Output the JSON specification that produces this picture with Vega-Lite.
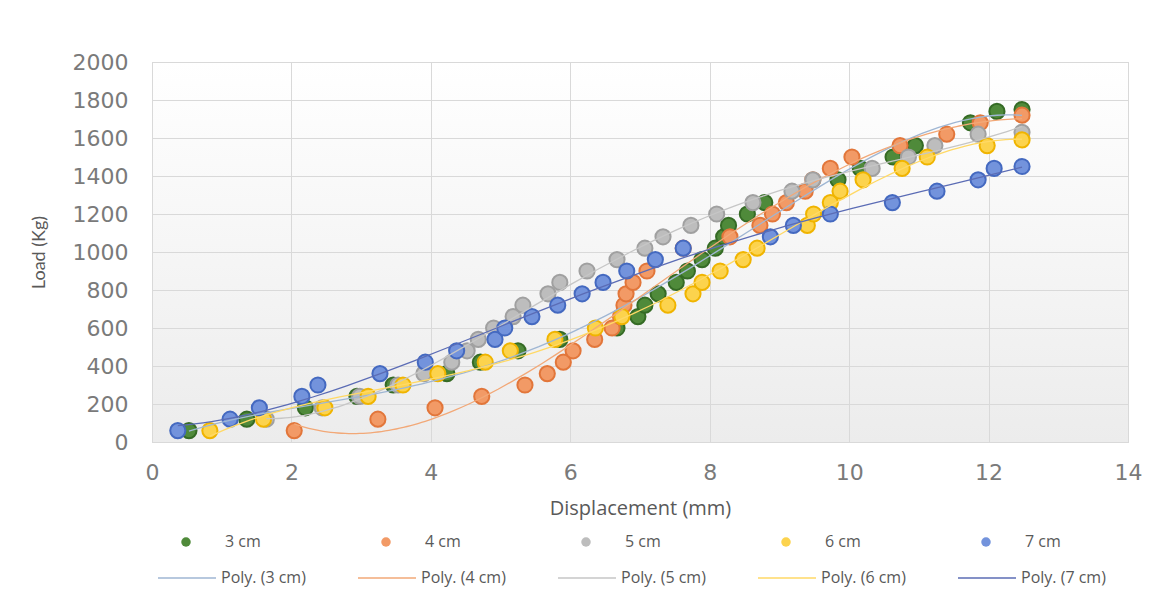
{
  "$schema": "https://vega.github.io/schema/vega-lite/v6.json",
  "width": 976,
  "height": 380,
  "autosize": {"type": "none"},
  "padding": {"left": 152, "top": 62, "right": 44, "bottom": 170},
  "background": "#ffffff",
  "config": {
    "font": "Open Sans",
    "view": {
      "stroke": "#d0d0d0",
      "fill": {"gradient": "linear", "x1": 0, "y1": 0, "x2": 0, "y2": 1,
        "stops": [{"offset": 0, "color": "#ffffff"}, {"offset": 1, "color": "#ececec"}]}
    },
    "axis": {
      "grid": true, "gridColor": "#d9d9d9", "gridWidth": 1,
      "domain": false, "ticks": false, "labelFlush": false,
      "labelFont": "DejaVu Sans", "labelFontSize": 22, "labelColor": "#7a7a7a",
      "titleFont": "Open Sans", "titleFontWeight": "normal", "titleColor": "#595959"
    },
    "legend": {
      "labelFont": "Open Sans", "labelFontSize": 16, "labelColor": "#595959"
    }
  },
  "data": {"values": [
    {"series": "3 cm", "trend": "Poly. (3 cm)", "disp": 0.53, "load": 60},
    {"series": "3 cm", "trend": "Poly. (3 cm)", "disp": 1.36, "load": 120},
    {"series": "3 cm", "trend": "Poly. (3 cm)", "disp": 2.2, "load": 180},
    {"series": "3 cm", "trend": "Poly. (3 cm)", "disp": 2.94, "load": 240},
    {"series": "3 cm", "trend": "Poly. (3 cm)", "disp": 3.46, "load": 300},
    {"series": "3 cm", "trend": "Poly. (3 cm)", "disp": 4.23, "load": 360},
    {"series": "3 cm", "trend": "Poly. (3 cm)", "disp": 4.71, "load": 420},
    {"series": "3 cm", "trend": "Poly. (3 cm)", "disp": 5.25, "load": 480},
    {"series": "3 cm", "trend": "Poly. (3 cm)", "disp": 5.85, "load": 540},
    {"series": "3 cm", "trend": "Poly. (3 cm)", "disp": 6.67, "load": 600},
    {"series": "3 cm", "trend": "Poly. (3 cm)", "disp": 6.97, "load": 660},
    {"series": "3 cm", "trend": "Poly. (3 cm)", "disp": 7.07, "load": 720},
    {"series": "3 cm", "trend": "Poly. (3 cm)", "disp": 7.26, "load": 780},
    {"series": "3 cm", "trend": "Poly. (3 cm)", "disp": 7.52, "load": 840},
    {"series": "3 cm", "trend": "Poly. (3 cm)", "disp": 7.68, "load": 900},
    {"series": "3 cm", "trend": "Poly. (3 cm)", "disp": 7.89, "load": 960},
    {"series": "3 cm", "trend": "Poly. (3 cm)", "disp": 8.08, "load": 1020},
    {"series": "3 cm", "trend": "Poly. (3 cm)", "disp": 8.2, "load": 1080},
    {"series": "3 cm", "trend": "Poly. (3 cm)", "disp": 8.27, "load": 1140},
    {"series": "3 cm", "trend": "Poly. (3 cm)", "disp": 8.54, "load": 1200},
    {"series": "3 cm", "trend": "Poly. (3 cm)", "disp": 8.79, "load": 1260},
    {"series": "3 cm", "trend": "Poly. (3 cm)", "disp": 9.84, "load": 1380},
    {"series": "3 cm", "trend": "Poly. (3 cm)", "disp": 10.16, "load": 1440},
    {"series": "3 cm", "trend": "Poly. (3 cm)", "disp": 10.63, "load": 1500},
    {"series": "3 cm", "trend": "Poly. (3 cm)", "disp": 10.95, "load": 1560},
    {"series": "3 cm", "trend": "Poly. (3 cm)", "disp": 11.74, "load": 1680},
    {"series": "3 cm", "trend": "Poly. (3 cm)", "disp": 12.12, "load": 1740},
    {"series": "3 cm", "trend": "Poly. (3 cm)", "disp": 12.48, "load": 1750},
    {"series": "4 cm", "trend": "Poly. (4 cm)", "disp": 2.04, "load": 60},
    {"series": "4 cm", "trend": "Poly. (4 cm)", "disp": 3.24, "load": 120},
    {"series": "4 cm", "trend": "Poly. (4 cm)", "disp": 4.06, "load": 180},
    {"series": "4 cm", "trend": "Poly. (4 cm)", "disp": 4.73, "load": 240},
    {"series": "4 cm", "trend": "Poly. (4 cm)", "disp": 5.35, "load": 300},
    {"series": "4 cm", "trend": "Poly. (4 cm)", "disp": 5.67, "load": 360},
    {"series": "4 cm", "trend": "Poly. (4 cm)", "disp": 5.9, "load": 420},
    {"series": "4 cm", "trend": "Poly. (4 cm)", "disp": 6.04, "load": 480},
    {"series": "4 cm", "trend": "Poly. (4 cm)", "disp": 6.35, "load": 540},
    {"series": "4 cm", "trend": "Poly. (4 cm)", "disp": 6.6, "load": 600},
    {"series": "4 cm", "trend": "Poly. (4 cm)", "disp": 6.72, "load": 660},
    {"series": "4 cm", "trend": "Poly. (4 cm)", "disp": 6.77, "load": 720},
    {"series": "4 cm", "trend": "Poly. (4 cm)", "disp": 6.8, "load": 780},
    {"series": "4 cm", "trend": "Poly. (4 cm)", "disp": 6.9, "load": 840},
    {"series": "4 cm", "trend": "Poly. (4 cm)", "disp": 7.1, "load": 900},
    {"series": "4 cm", "trend": "Poly. (4 cm)", "disp": 7.62, "load": 1020},
    {"series": "4 cm", "trend": "Poly. (4 cm)", "disp": 8.29, "load": 1080},
    {"series": "4 cm", "trend": "Poly. (4 cm)", "disp": 8.72, "load": 1140},
    {"series": "4 cm", "trend": "Poly. (4 cm)", "disp": 8.9, "load": 1200},
    {"series": "4 cm", "trend": "Poly. (4 cm)", "disp": 9.1, "load": 1260},
    {"series": "4 cm", "trend": "Poly. (4 cm)", "disp": 9.37, "load": 1320},
    {"series": "4 cm", "trend": "Poly. (4 cm)", "disp": 9.48, "load": 1380},
    {"series": "4 cm", "trend": "Poly. (4 cm)", "disp": 9.73, "load": 1440},
    {"series": "4 cm", "trend": "Poly. (4 cm)", "disp": 10.04, "load": 1500},
    {"series": "4 cm", "trend": "Poly. (4 cm)", "disp": 10.73, "load": 1560},
    {"series": "4 cm", "trend": "Poly. (4 cm)", "disp": 11.4, "load": 1620},
    {"series": "4 cm", "trend": "Poly. (4 cm)", "disp": 11.88, "load": 1680},
    {"series": "4 cm", "trend": "Poly. (4 cm)", "disp": 12.48, "load": 1720},
    {"series": "5 cm", "trend": "Poly. (5 cm)", "disp": 1.64, "load": 120},
    {"series": "5 cm", "trend": "Poly. (5 cm)", "disp": 2.44, "load": 180},
    {"series": "5 cm", "trend": "Poly. (5 cm)", "disp": 2.98, "load": 240},
    {"series": "5 cm", "trend": "Poly. (5 cm)", "disp": 3.53, "load": 300},
    {"series": "5 cm", "trend": "Poly. (5 cm)", "disp": 3.9, "load": 360},
    {"series": "5 cm", "trend": "Poly. (5 cm)", "disp": 4.3, "load": 420},
    {"series": "5 cm", "trend": "Poly. (5 cm)", "disp": 4.52, "load": 480},
    {"series": "5 cm", "trend": "Poly. (5 cm)", "disp": 4.68, "load": 540},
    {"series": "5 cm", "trend": "Poly. (5 cm)", "disp": 4.9, "load": 600},
    {"series": "5 cm", "trend": "Poly. (5 cm)", "disp": 5.18, "load": 660},
    {"series": "5 cm", "trend": "Poly. (5 cm)", "disp": 5.32, "load": 720},
    {"series": "5 cm", "trend": "Poly. (5 cm)", "disp": 5.68, "load": 780},
    {"series": "5 cm", "trend": "Poly. (5 cm)", "disp": 5.85, "load": 840},
    {"series": "5 cm", "trend": "Poly. (5 cm)", "disp": 6.24, "load": 900},
    {"series": "5 cm", "trend": "Poly. (5 cm)", "disp": 6.67, "load": 960},
    {"series": "5 cm", "trend": "Poly. (5 cm)", "disp": 7.07, "load": 1020},
    {"series": "5 cm", "trend": "Poly. (5 cm)", "disp": 7.33, "load": 1080},
    {"series": "5 cm", "trend": "Poly. (5 cm)", "disp": 7.73, "load": 1140},
    {"series": "5 cm", "trend": "Poly. (5 cm)", "disp": 8.1, "load": 1200},
    {"series": "5 cm", "trend": "Poly. (5 cm)", "disp": 8.62, "load": 1260},
    {"series": "5 cm", "trend": "Poly. (5 cm)", "disp": 9.18, "load": 1320},
    {"series": "5 cm", "trend": "Poly. (5 cm)", "disp": 9.48, "load": 1380},
    {"series": "5 cm", "trend": "Poly. (5 cm)", "disp": 10.33, "load": 1440},
    {"series": "5 cm", "trend": "Poly. (5 cm)", "disp": 10.85, "load": 1500},
    {"series": "5 cm", "trend": "Poly. (5 cm)", "disp": 11.23, "load": 1560},
    {"series": "5 cm", "trend": "Poly. (5 cm)", "disp": 11.85, "load": 1620},
    {"series": "5 cm", "trend": "Poly. (5 cm)", "disp": 12.48, "load": 1630},
    {"series": "6 cm", "trend": "Poly. (6 cm)", "disp": 0.83, "load": 60},
    {"series": "6 cm", "trend": "Poly. (6 cm)", "disp": 1.6, "load": 120},
    {"series": "6 cm", "trend": "Poly. (6 cm)", "disp": 2.48, "load": 180},
    {"series": "6 cm", "trend": "Poly. (6 cm)", "disp": 3.1, "load": 240},
    {"series": "6 cm", "trend": "Poly. (6 cm)", "disp": 3.6, "load": 300},
    {"series": "6 cm", "trend": "Poly. (6 cm)", "disp": 4.1, "load": 360},
    {"series": "6 cm", "trend": "Poly. (6 cm)", "disp": 4.78, "load": 420},
    {"series": "6 cm", "trend": "Poly. (6 cm)", "disp": 5.14, "load": 480},
    {"series": "6 cm", "trend": "Poly. (6 cm)", "disp": 5.78, "load": 540},
    {"series": "6 cm", "trend": "Poly. (6 cm)", "disp": 6.36, "load": 600},
    {"series": "6 cm", "trend": "Poly. (6 cm)", "disp": 6.74, "load": 660},
    {"series": "6 cm", "trend": "Poly. (6 cm)", "disp": 7.4, "load": 720},
    {"series": "6 cm", "trend": "Poly. (6 cm)", "disp": 7.76, "load": 780},
    {"series": "6 cm", "trend": "Poly. (6 cm)", "disp": 7.89, "load": 840},
    {"series": "6 cm", "trend": "Poly. (6 cm)", "disp": 8.15, "load": 900},
    {"series": "6 cm", "trend": "Poly. (6 cm)", "disp": 8.48, "load": 960},
    {"series": "6 cm", "trend": "Poly. (6 cm)", "disp": 8.68, "load": 1020},
    {"series": "6 cm", "trend": "Poly. (6 cm)", "disp": 9.4, "load": 1140},
    {"series": "6 cm", "trend": "Poly. (6 cm)", "disp": 9.49, "load": 1200},
    {"series": "6 cm", "trend": "Poly. (6 cm)", "disp": 9.73, "load": 1260},
    {"series": "6 cm", "trend": "Poly. (6 cm)", "disp": 9.87, "load": 1320},
    {"series": "6 cm", "trend": "Poly. (6 cm)", "disp": 10.2, "load": 1380},
    {"series": "6 cm", "trend": "Poly. (6 cm)", "disp": 10.76, "load": 1440},
    {"series": "6 cm", "trend": "Poly. (6 cm)", "disp": 11.12, "load": 1500},
    {"series": "6 cm", "trend": "Poly. (6 cm)", "disp": 11.98, "load": 1560},
    {"series": "6 cm", "trend": "Poly. (6 cm)", "disp": 12.48, "load": 1590},
    {"series": "7 cm", "trend": "Poly. (7 cm)", "disp": 0.37, "load": 60},
    {"series": "7 cm", "trend": "Poly. (7 cm)", "disp": 1.12, "load": 120},
    {"series": "7 cm", "trend": "Poly. (7 cm)", "disp": 1.54, "load": 180},
    {"series": "7 cm", "trend": "Poly. (7 cm)", "disp": 2.15, "load": 240},
    {"series": "7 cm", "trend": "Poly. (7 cm)", "disp": 2.38, "load": 300},
    {"series": "7 cm", "trend": "Poly. (7 cm)", "disp": 3.27, "load": 360},
    {"series": "7 cm", "trend": "Poly. (7 cm)", "disp": 3.92, "load": 420},
    {"series": "7 cm", "trend": "Poly. (7 cm)", "disp": 4.37, "load": 480},
    {"series": "7 cm", "trend": "Poly. (7 cm)", "disp": 4.92, "load": 540},
    {"series": "7 cm", "trend": "Poly. (7 cm)", "disp": 5.06, "load": 600},
    {"series": "7 cm", "trend": "Poly. (7 cm)", "disp": 5.45, "load": 660},
    {"series": "7 cm", "trend": "Poly. (7 cm)", "disp": 5.82, "load": 720},
    {"series": "7 cm", "trend": "Poly. (7 cm)", "disp": 6.17, "load": 780},
    {"series": "7 cm", "trend": "Poly. (7 cm)", "disp": 6.47, "load": 840},
    {"series": "7 cm", "trend": "Poly. (7 cm)", "disp": 6.81, "load": 900},
    {"series": "7 cm", "trend": "Poly. (7 cm)", "disp": 7.22, "load": 960},
    {"series": "7 cm", "trend": "Poly. (7 cm)", "disp": 7.62, "load": 1020},
    {"series": "7 cm", "trend": "Poly. (7 cm)", "disp": 8.87, "load": 1080},
    {"series": "7 cm", "trend": "Poly. (7 cm)", "disp": 9.2, "load": 1140},
    {"series": "7 cm", "trend": "Poly. (7 cm)", "disp": 9.73, "load": 1200},
    {"series": "7 cm", "trend": "Poly. (7 cm)", "disp": 10.62, "load": 1260},
    {"series": "7 cm", "trend": "Poly. (7 cm)", "disp": 11.26, "load": 1320},
    {"series": "7 cm", "trend": "Poly. (7 cm)", "disp": 11.85, "load": 1380},
    {"series": "7 cm", "trend": "Poly. (7 cm)", "disp": 12.08, "load": 1440},
    {"series": "7 cm", "trend": "Poly. (7 cm)", "disp": 12.48, "load": 1450}
  ]},
  "encoding": {
    "x": {"field": "disp", "type": "quantitative",
      "scale": {"domain": [0, 14], "nice": false},
      "axis": {"values": [0, 2, 4, 6, 8, 10, 12, 14], "title": "Displacement (mm)", "format": "d",
        "titleFontSize": 20, "labelPadding": 20, "titlePadding": 15}},
    "y": {"field": "load", "type": "quantitative",
      "scale": {"domain": [0, 2000], "nice": false},
      "axis": {"values": [0, 200, 400, 600, 800, 1000, 1200, 1400, 1600, 1800, 2000], "format": "d",
        "title": "Load (Kg)", "titleFont": "Lato", "titleFontSize": 18,
        "labelPadding": 24, "titlePadding": 24}}
  },
  "layer": [
    {
      "mark": {"type": "point", "shape": "circle", "filled": true, "size": 230, "strokeWidth": 2, "opacity": 1, "fillOpacity": 1, "strokeOpacity": 1},
      "encoding": {
        "fill": {"field": "series", "type": "nominal",
          "scale": {"domain": ["3 cm", "4 cm", "5 cm", "6 cm", "7 cm"],
            "range": ["#4f8a3a", "#f29a66", "#bdbdbd", "#fcd34d", "#7393dc"]},
          "legend": {"orient": "none", "legendX": 26, "legendY": 472, "direction": "horizontal",
            "columns": 5, "gridAlign": "all", "columnPadding": 117, "title": null,
            "symbolType": "circle", "symbolSize": 90, "symbolStrokeWidth": 0, "labelOffset": 31}},
        "stroke": {"field": "series", "type": "nominal",
          "scale": {"domain": ["3 cm", "4 cm", "5 cm", "6 cm", "7 cm"],
            "range": ["#356b25", "#e2763a", "#a0a0a0", "#f0b400", "#4469c0"]},
          "legend": null}
      }
    },
    {
      "transform": [{"regression": "load", "on": "disp", "groupby": ["trend"], "method": "poly", "order": 4}],
      "mark": {"type": "line", "strokeWidth": 1.3},
      "encoding": {
        "stroke": {"field": "trend", "type": "nominal",
          "scale": {"domain": ["Poly. (3 cm)", "Poly. (4 cm)", "Poly. (5 cm)", "Poly. (6 cm)", "Poly. (7 cm)"],
            "range": ["#9fb6d3", "#f2a877", "#c6c6c6", "#ffd966", "#5b6cb5"]},
          "legend": {"orient": "none", "legendX": 5, "legendY": 486, "direction": "horizontal",
            "columns": 5, "gridAlign": "all", "columnPadding": 49, "title": null,
            "symbolType": "stroke", "symbolSize": 3364, "symbolStrokeWidth": 1.5, "labelOffset": 4}}
      }
    }
  ],
  "resolve": {"scale": {"stroke": "independent"}}
}
